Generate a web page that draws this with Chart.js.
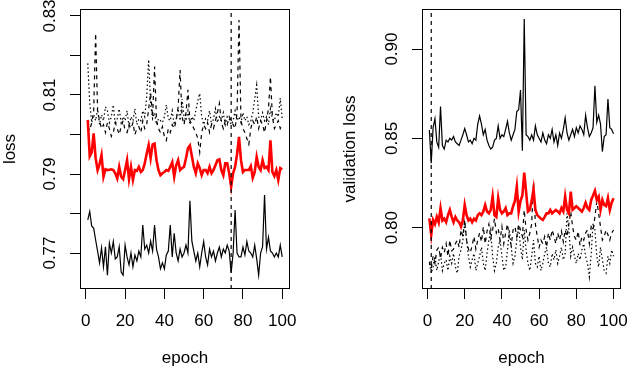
<!DOCTYPE html>
<html><head><meta charset="utf-8">
<script src="https://cdn.jsdelivr.net/npm/chart.js@4/dist/chart.umd.min.js"></script>
<style>
html,body{margin:0;padding:0;background:#fff;}
#wrap{position:relative;width:640px;height:372px;overflow:hidden;}
canvas{position:absolute;top:0;}
#c1{left:0}
#c2{left:320px}
</style></head><body>
<div id="wrap"><canvas id="c1" width="320" height="372"></canvas><canvas id="c2" width="320" height="372"></canvas></div>
<script>
// ---------- data ----------
const epochs = Array.from({length:100},(_,i)=>i+1);
const epochTicks = [0,20,40,60,80,100];
const lossTicks = [0.77,0.78,0.79,0.80,0.81,0.82,0.83];
const lossTickLabels = ['0.77','','0.79','','0.81','','0.83'];
const valTicks = [0.80,0.85,0.90];
const valTickLabels = ['0.80','0.85','0.90'];
const bestEpochLoss = 74;
const bestEpochVal = 2;

const lossSolid = [0.7784,0.7805,0.7768,0.7763,0.7733,0.7705,0.7675,0.7713,0.7665,0.7716,
0.7644,0.7725,0.7700,0.7729,0.7685,0.7690,0.7716,0.7652,0.7644,0.7720,
0.7690,0.7670,0.7700,0.7665,0.7695,0.7680,0.7705,0.7690,0.7771,0.7710,
0.7720,0.7700,0.7730,0.7705,0.7771,0.7710,0.7690,0.7660,0.7675,0.7660,
0.7695,0.7705,0.7771,0.7690,0.7750,0.7700,0.7680,0.7710,0.7690,0.7700,
0.7720,0.7700,0.7832,0.7730,0.7705,0.7680,0.7700,0.7665,0.7700,0.7729,
0.7690,0.7670,0.7710,0.7690,0.7705,0.7680,0.7700,0.7715,0.7690,0.7710,
0.7700,0.7720,0.7705,0.7650,0.7700,0.7809,0.7700,0.7690,0.7690,0.7715,
0.7695,0.7729,0.7705,0.7700,0.7690,0.7720,0.7685,0.7644,0.7700,0.7716,
0.7847,0.7710,0.7740,0.7705,0.7700,0.7690,0.7700,0.7690,0.7720,0.7690];

const lossRed = [0.8037,0.7945,0.7955,0.8003,0.7940,0.7910,0.7925,0.7948,0.7893,0.7912,
0.7910,0.7911,0.7912,0.7910,0.7902,0.7889,0.7918,0.7893,0.7887,0.7910,
0.7935,0.7887,0.7918,0.7885,0.7910,0.7908,0.7918,0.7905,0.7910,0.7927,
0.7952,0.7973,0.7940,0.7975,0.7977,0.7935,0.7910,0.7897,0.7902,0.7905,
0.7910,0.7908,0.7918,0.7930,0.7893,0.7922,0.7935,0.7910,0.7915,0.7918,
0.7940,0.7965,0.7972,0.7945,0.7918,0.7902,0.7927,0.7915,0.7897,0.7910,
0.7910,0.7902,0.7918,0.7902,0.7910,0.7922,0.7935,0.7937,0.7910,0.7897,
0.7927,0.7927,0.7902,0.7868,0.7902,0.7918,0.7950,0.7994,0.7935,0.7905,
0.7910,0.7910,0.7910,0.7920,0.7890,0.7905,0.7943,0.7918,0.7910,0.7935,
0.7915,0.7918,0.7910,0.7985,0.7905,0.7895,0.7910,0.7885,0.7915,0.7912];

const lossDashed = [0.8020,0.8010,0.8030,0.8060,0.8256,0.8060,0.8035,0.8015,0.8025,0.8005,
0.8030,0.8015,0.7995,0.8005,0.8030,0.8015,0.8000,0.8020,0.8035,0.8010,
0.8005,0.8025,0.8015,0.8030,0.8000,0.8015,0.8020,0.8005,0.8035,0.8015,
0.8025,0.8065,0.8105,0.8045,0.8172,0.8035,0.8015,0.8005,0.8020,0.7995,
0.7985,0.8015,0.8005,0.8025,0.8015,0.8035,0.8070,0.8163,0.8045,0.8025,
0.8055,0.8113,0.8035,0.8025,0.8015,0.8005,0.7990,0.7955,0.8005,0.8025,
0.8015,0.8030,0.8005,0.8025,0.8015,0.8035,0.8055,0.8079,0.8030,0.8015,
0.8035,0.8025,0.8045,0.8035,0.8025,0.8015,0.8055,0.8290,0.8035,0.8015,
0.8005,0.7990,0.7975,0.8015,0.8035,0.8025,0.8045,0.8015,0.8035,0.8025,
0.8005,0.8035,0.8065,0.8146,0.8045,0.8015,0.8025,0.8035,0.8015,0.8025];

const lossDotted = [0.8180,0.8080,0.8030,0.8050,0.8035,0.8065,0.8025,0.8050,0.8035,0.8070,
0.8060,0.8030,0.8045,0.8075,0.8025,0.8040,0.8065,0.8030,0.8045,0.8035,
0.8060,0.8020,0.8045,0.8035,0.8065,0.8025,0.8040,0.8035,0.8060,0.8045,
0.8095,0.8189,0.8075,0.8040,0.8055,0.8025,0.8040,0.8035,0.8030,0.8045,
0.8075,0.8040,0.8035,0.8060,0.8025,0.8040,0.8065,0.8035,0.8090,0.8045,
0.8035,0.8060,0.8025,0.8045,0.8035,0.8060,0.8085,0.8104,0.8045,0.8025,
0.8040,0.8035,0.8060,0.8025,0.8040,0.8065,0.8030,0.8045,0.8035,0.8055,
0.8025,0.8045,0.8040,0.8025,0.8035,0.8060,0.8035,0.8045,0.8030,0.8055,
0.8035,0.8045,0.8025,0.8035,0.8055,0.8090,0.8125,0.8045,0.8035,0.8055,
0.8035,0.8045,0.8025,0.8065,0.8040,0.8035,0.8055,0.8045,0.8092,0.8040];

const valSolid = [0.8547,0.8360,0.8560,0.8610,0.8480,0.8450,0.8678,0.8460,0.8440,0.8490,
0.8480,0.8500,0.8490,0.8510,0.8480,0.8470,0.8460,0.8490,0.8520,0.8555,
0.8520,0.8480,0.8490,0.8470,0.8500,0.8490,0.8580,0.8625,0.8580,0.8520,
0.8550,0.8490,0.8460,0.8440,0.8450,0.8490,0.8500,0.8570,0.8500,0.8520,
0.8510,0.8550,0.8595,0.8530,0.8490,0.8520,0.8550,0.8650,0.8660,0.8770,
0.8430,0.9168,0.8520,0.8510,0.8490,0.8520,0.8490,0.8570,0.8520,0.8500,
0.8480,0.8530,0.8490,0.8470,0.8520,0.8500,0.8550,0.8480,0.8520,0.8460,
0.8530,0.8500,0.8550,0.8615,0.8530,0.8490,0.8520,0.8550,0.8510,0.8560,
0.8530,0.8570,0.8550,0.8520,0.8630,0.8560,0.8510,0.8530,0.8560,0.8794,
0.8590,0.8630,0.8580,0.8426,0.8510,0.8520,0.8720,0.8560,0.8550,0.8525];

const valRed = [0.8052,0.7959,0.8043,0.8020,0.8061,0.8030,0.8109,0.8040,0.8050,0.8030,
0.8070,0.8099,0.8060,0.8030,0.8060,0.8040,0.8030,0.8005,0.8040,0.8127,
0.8070,0.8040,0.8050,0.8030,0.8050,0.8040,0.8070,0.8080,0.8070,0.8090,
0.8127,0.8090,0.8080,0.8100,0.8174,0.8070,0.8060,0.8165,0.8100,0.8080,
0.8090,0.8110,0.8070,0.8080,0.8080,0.8120,0.8150,0.8230,0.8090,0.8150,
0.8180,0.8308,0.8200,0.8090,0.8100,0.8150,0.8216,0.8100,0.8070,0.8060,
0.8050,0.8043,0.8060,0.8080,0.8080,0.8099,0.8080,0.8090,0.8099,0.8090,
0.8080,0.8110,0.8090,0.8174,0.8100,0.8080,0.8202,0.8100,0.8110,0.8120,
0.8110,0.8100,0.8090,0.8110,0.8140,0.8110,0.8099,0.8155,0.8180,0.8206,
0.8155,0.8174,0.8099,0.8155,0.8127,0.8120,0.8165,0.8099,0.8140,0.8165];

const valDashed = [0.7810,0.7770,0.7840,0.7800,0.7874,0.7890,0.7830,0.7890,0.7860,0.7910,
0.7840,0.7930,0.7870,0.7880,0.7910,0.7930,0.7890,0.7987,0.7950,0.8043,
0.7930,0.7880,0.7860,0.7900,0.7950,0.7880,0.7930,0.7970,0.7920,0.8005,
0.7910,0.7980,0.8020,0.7940,0.7987,0.8050,0.7970,0.7995,0.7930,0.8005,
0.7910,0.7970,0.8020,0.7940,0.7900,0.7987,0.8005,0.7950,0.8020,0.7987,
0.7950,0.8099,0.7987,0.7930,0.7970,0.8020,0.8258,0.8020,0.7950,0.7890,
0.7930,0.7910,0.7950,0.7890,0.7970,0.7930,0.7987,0.7950,0.7910,0.7970,
0.7930,0.7980,0.7920,0.7987,0.7950,0.8020,0.8090,0.8005,0.7950,0.7930,
0.7980,0.7900,0.7950,0.7930,0.7970,0.7987,0.7910,0.8005,0.7987,0.8060,
0.8146,0.8080,0.8005,0.7930,0.7950,0.7987,0.7960,0.7930,0.7970,0.7987];

const valDotted = [0.7800,0.7745,0.7780,0.7840,0.7760,0.7810,0.7855,0.7760,0.7800,0.7820,
0.7760,0.7840,0.7800,0.7855,0.7780,0.7745,0.7840,0.7875,0.7930,0.8024,
0.7930,0.7840,0.7780,0.7820,0.7855,0.7760,0.7800,0.7840,0.7890,0.7800,
0.7760,0.7855,0.7930,0.7987,0.7840,0.7760,0.7800,0.7890,0.7930,0.7840,
0.7760,0.7780,0.7875,0.7987,0.7890,0.7800,0.7840,0.7930,0.8005,0.7890,
0.7820,0.7987,0.7875,0.7800,0.7760,0.7840,0.7930,0.7800,0.7780,0.7840,
0.7760,0.7800,0.7855,0.7890,0.7800,0.7780,0.7855,0.7820,0.7875,0.7800,
0.7840,0.7890,0.7820,0.7855,0.8080,0.7987,0.7840,0.7890,0.7840,0.7800,
0.7855,0.7820,0.7875,0.7910,0.7840,0.7800,0.7725,0.7855,0.8024,0.7987,
0.7840,0.7780,0.7890,0.7820,0.7760,0.7745,0.7840,0.7800,0.7875,0.7840];

// ---------- drawing ----------
const FONT = 'Liberation Sans, Arial, Helvetica, sans-serif';
const FS = 17;
const pts = arr => epochs.map((e,i)=>({x:e,y:arr[i]}));

function makePanel(id, series, yMin, yMax, yTicks, yLabels, yTitle, marker, areaLeft, padRight, titlePad){
  const boxPlugin = {
    id:'box'+id,
    afterDraw(chart){
      const {ctx, chartArea:a} = chart;
      const ys = chart.scales.y;
      ctx.save();
      ctx.strokeStyle = '#000';
      ctx.lineWidth = 1;
      ctx.strokeRect(Math.round(a.left)+0.5, Math.round(a.top)+0.5, Math.round(a.right-a.left)-1, Math.round(a.bottom-a.top)-1);
      ctx.fillStyle = '#000';
      ctx.font = FS + 'px ' + FONT;
      ctx.textAlign = 'center';
      ctx.textBaseline = 'middle';
      yTicks.forEach((v,i)=>{
        if(!yLabels[i]) return;
        ctx.save();
        ctx.translate(a.left - 30, ys.getPixelForValue(v));
        ctx.rotate(-Math.PI/2);
        ctx.fillText(yLabels[i], 0, 0);
        ctx.restore();
      });
      ctx.restore();
    }
  };
  const lineDs = (arr, color, w, dash) => ({
    data: pts(arr), borderColor: color, borderWidth: w, borderDash: dash || [],
    pointRadius: 0, tension: 0, fill: false
  });
  return new Chart(document.getElementById(id), {
    type: 'line',
    data: {
      datasets: [
        {data:[{x:marker,y:yMin},{x:marker,y:yMax}], borderColor:'#000', borderWidth:1.2, borderDash:[4,4], pointRadius:0, fill:false},
        lineDs(series.red, '#ff0000', 2.6),
        lineDs(series.solid, '#000', 1.2),
        lineDs(series.dashed, '#000', 1.2, [4,4]),
        lineDs(series.dotted, '#000', 1.2, [1.5,2.5])
      ]
    },
    options: {
      responsive: false, animation: false, devicePixelRatio: 1,
      layout: {padding: {top: 9, right: padRight, bottom: 0, left: 0}},
      plugins: {legend:{display:false}, tooltip:{enabled:false}},
      scales: {
        x: {
          type:'linear', min:-2.96, max:103.96,
          afterBuildTicks: s => { s.ticks = epochTicks.map(v=>({value:v})); },
          afterFit: s => { s.height = 83; },
          ticks: {font:{family:FONT,size:FS}, color:'#000', padding:12, maxRotation:0, autoSkip:false},
          grid: {drawOnChartArea:false, drawTicks:true, tickLength:10, color:'#000', lineWidth:1},
          border: {display:false},
          title: {display:true, text:'epoch', color:'#000', font:{family:FONT,size:FS}, padding:{top:0,bottom:3}}
        },
        y: {
          type:'linear', min:yMin, max:yMax,
          afterBuildTicks: s => { s.ticks = yTicks.map(v=>({value:v})); },
          afterFit: s => { s.width = areaLeft; },
          ticks: {display:false},
          grid: {drawOnChartArea:false, drawTicks:true, tickLength:10, color:'#000', lineWidth:1},
          border: {display:false},
          title: {display:true, text:yTitle, color:'#000', font:{family:FONT,size:FS}, padding:{top:titlePad,bottom:0}}
        }
      }
    },
    plugins: [boxPlugin]
  });
}

makePanel('c1', {red:lossRed, solid:lossSolid, dashed:lossDashed, dotted:lossDotted},
  0.76089, 0.83177, lossTicks, lossTickLabels, 'loss', bestEpochLoss, 80, 30, 0);
makePanel('c2', {red:valRed, solid:valSolid, dashed:valDashed, dotted:valDotted},
  0.76564, 0.92242, valTicks, valTickLabels, 'validation loss', bestEpochVal, 102, 8, 20);
</script>
</body></html>
